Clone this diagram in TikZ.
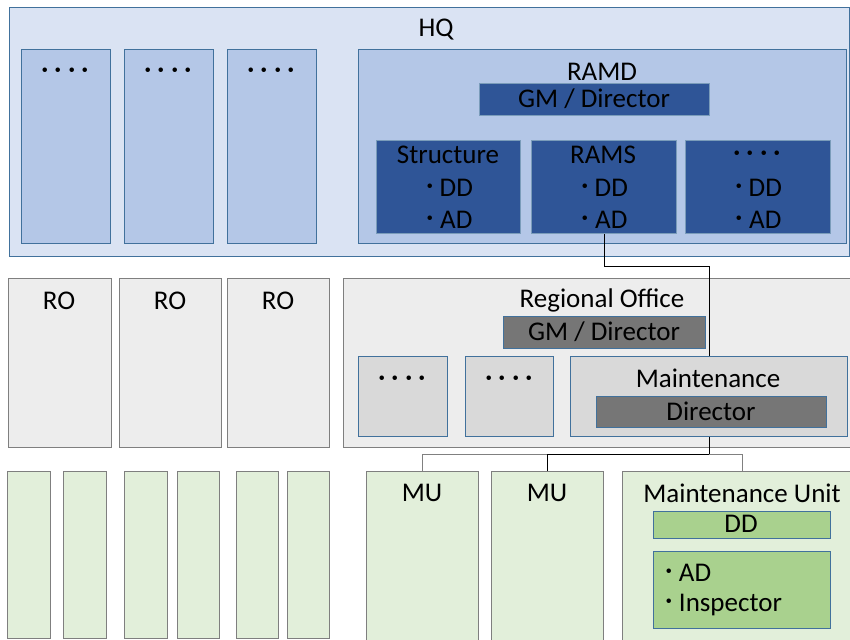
\documentclass[tikz,border=0pt]{standalone}
\usepackage{fontspec}
\setmainfont{Carlito}
\newfontfamily\cjk{Noto Sans CJK JP}
\newcommand\bul{{\cjk ･}\kern3pt}
\definecolor{hqfill}{HTML}{DAE3F3}
\definecolor{deptfill}{HTML}{B4C7E7}
\definecolor{navy}{HTML}{2F5597}
\definecolor{blueline}{HTML}{41719C}
\definecolor{rofill}{HTML}{EDEDED}
\definecolor{subfill}{HTML}{D9D9D9}
\definecolor{headgrey}{HTML}{767676}
\definecolor{greyline}{HTML}{7F7F7F}
\definecolor{mufill}{HTML}{E2EFDA}
\definecolor{ddfill}{HTML}{A9D18E}
\begin{document}
\begin{tikzpicture}[x=1pt, y=-1pt, line width=.9pt,
  every node/.style={font=\fontsize{27}{32}\selectfont, inner sep=0pt},
  blk/.style={draw, anchor=north west, minimum height=#1},
  hqbox/.style={blk=#1, fill=hqfill, draw=blueline},
  deptbox/.style={blk=#1, fill=deptfill, draw=blueline},
  navybox/.style={blk=#1, fill=navy, draw=blueline!70},
  robox/.style={blk=#1, fill=rofill, draw=greyline},
  subbox/.style={blk=#1, fill=subfill, draw=blueline},
  headbox/.style={blk=#1, fill=headgrey, draw=blueline},
  mubox/.style={blk=#1, fill=mufill, draw=greyline},
  ddbox/.style={blk=#1, fill=ddfill, draw=blueline},
  link/.style={line width=.8pt, draw=black}]
  \useasboundingbox (0,0) rectangle (850,639);
  \node[hqbox=249, minimum width=840] (hq) at (9,7) {};
  \node[deptbox=194, minimum width=89] (col1) at (21,49) {};
  \node[deptbox=194, minimum width=89] (col2) at (124,49) {};
  \node[deptbox=194, minimum width=89] (col3) at (227,49) {};
  \node[deptbox=194, minimum width=488] (ramd) at (358,49) {};
  \node[navybox=32, minimum width=230] (ramdhead) at (479,83) {};
  \node[navybox=93, minimum width=144] (struct) at (376,140) {};
  \node[navybox=93, minimum width=145] (rams) at (531,140) {};
  \node[navybox=93, minimum width=145] (other) at (685,140) {};
  \node (hqname) at (436,30) {HQ};
  \node (col1dots) at (65,74) {\cjk ････};
  \node (col2dots) at (168,74) {\cjk ････};
  \node (col3dots) at (271,74) {\cjk ････};
  \node (ramdname) at (602,72) {RAMD};
  \node (ramdgm) at (594,99) {GM / Director};
  \node (structname) at (448,155) {Structure};
  \node (structdd) at (448,188) {\bul DD};
  \node (structad) at (448,220) {\bul AD};
  \node (ramsname) at (603,155) {RAMS};
  \node (ramsdd) at (603,188) {\bul DD};
  \node (ramsad) at (603,220) {\bul AD};
  \node (otherdots) at (757,157) {\cjk ････};
  \node (otherdd) at (757,188) {\bul DD};
  \node (otherad) at (757,220) {\bul AD};

  \node[robox=169, minimum width=103] (ro1) at (8,278) {};
  \node[robox=169, minimum width=102] (ro2) at (119,278) {};
  \node[robox=169, minimum width=102] (ro3) at (227,278) {};
  \node[robox=169, minimum width=520] (region) at (343,278) {};
  \node[headbox=32, minimum width=202] (regionhead) at (503,316) {};
  \node[subbox=80, minimum width=89] (sub1) at (358,356) {};
  \node[subbox=80, minimum width=88] (sub2) at (465,356) {};
  \node[subbox=80, minimum width=277] (maint) at (570,356) {};
  \node[headbox=31, minimum width=230] (mainthead) at (596,396) {};
  \node (ro1name) at (59,301) {RO};
  \node (ro2name) at (170,301) {RO};
  \node (ro3name) at (278,301) {RO};
  \node (regionname) at (602,300) {Regional Office};
  \node (regiongm) at (604,332) {GM / Director};
  \node (sub1dots) at (402,382) {\cjk ････};
  \node (sub2dots) at (509,382) {\cjk ････};
  \node (maintname) at (708,378) {Maintenance};
  \node (maintdir) at (711,411) {Director};

  \node[mubox=167, minimum width=43] (g1) at (7,471) {};
  \node[mubox=167, minimum width=43] (g2) at (63,471) {};
  \node[mubox=167, minimum width=43] (g3) at (124,471) {};
  \node[mubox=167, minimum width=42] (g4) at (177,471) {};
  \node[mubox=167, minimum width=42] (g5) at (236,471) {};
  \node[mubox=167, minimum width=42] (g6) at (287,471) {};
  \node[mubox=170, minimum width=112] (mu1) at (366,471) {};
  \node[mubox=170, minimum width=112] (mu2) at (491,471) {};
  \node[mubox=170, minimum width=240] (mu3) at (622,471) {};
  \node[ddbox=27, minimum width=177] (mudd) at (653,511) {};
  \node[ddbox=77, minimum width=177] (mustaff) at (653,551) {};
  \node (mu1name) at (422,493) {MU};
  \node (mu2name) at (547,493) {MU};
  \node (mu3name) at (742,493) {Maintenance Unit};
  \node (muddname) at (741,524) {DD};
  \node[anchor=west] (muad) at (662,573) {\bul AD};
  \node[anchor=west] (muinsp) at (662,605) {\bul Inspector};

  \draw[link] (rams.south) -- ++(0,32) -| (maint.north);
  \draw[link] (maint.south) -- ++(0,17) coordinate (fork);
  \draw[link, draw=gray] (fork) -| (mu1.north);
  \draw[link, draw=gray] (fork) -| (mu3.north);
  \draw[link] (fork) -| (mu2.north);
\end{tikzpicture}
\end{document}
